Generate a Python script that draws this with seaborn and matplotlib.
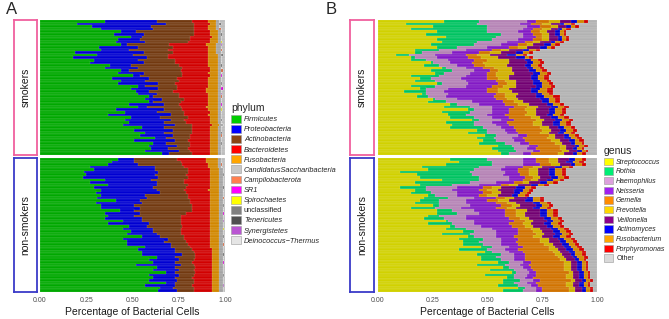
import numpy as np
import pandas as pd
import seaborn as sns
import matplotlib.pyplot as plt
from matplotlib.patches import Patch
from matplotlib.colors import to_rgb

# ---- panel A: phylum (percent per sample, top row first) ----
phyla = ["Firmicutes", "Proteobacteria", "Actinobacteria", "Bacteroidetes", "Fusobacteria",
         "CandidatusSaccharibacteria", "Campilobacterota", "SR1", "Spirochaetes", "unclassified",
         "Tenericutes", "Synergistetes", "Deinococcus\u2212Thermus"]
phylum_colors = ["#00CD00", "#0000FF", "#8B4513", "#FF0000", "#FFA500", "#C8C8C8", "#FF7F50",
                 "#FF00FF", "#FFFF00", "#808080", "#505050", "#BA55D3", "#E5E5E5"]

firm_smk = [35, 20, 28, 33, 44, 40, 49, 42, 41, 44, 32, 33, 19, 31, 18, 29, 27, 38, 35, 44, 42, 50, 39, 44, 42, 53,
            49, 52, 53, 59, 57, 59, 48, 53, 41, 46, 37, 49, 46, 48, 45, 55, 51, 57, 54, 62, 51, 61, 59, 60, 57, 66]
prot_smk = [28, 48, 32, 28, 8, 16, 6, 12, 16, 3, 21, 15, 37, 19, 40, 24, 29, 11, 18, 4, 14, 4, 20, 13, 22, 4,
            15, 7, 10, 2, 9, 2, 19, 5, 26, 17, 34, 16, 25, 19, 28, 12, 21, 10, 18, 6, 22, 7, 15, 9, 18, 4]
acti_smk = [19, 15, 23, 22, 31, 27, 26, 27, 23, 23, 19, 21, 16, 19, 11, 20, 17, 26, 24, 28, 21, 23, 15, 18, 9, 17,
            10, 13, 12, 14, 12, 15, 8, 18, 10, 15, 7, 15, 7, 12, 9, 15, 10, 15, 9, 13, 7, 13, 7, 11, 6, 12]
bact_smk = [9, 9, 8, 8, 9, 9, 12, 11, 12, 20, 19, 22, 19, 22, 22, 18, 18, 16, 15, 16, 14, 15, 17, 16, 18, 17,
            16, 18, 16, 16, 13, 15, 16, 14, 14, 14, 13, 12, 14, 13, 11, 10, 10, 10, 11, 11, 12, 11, 11, 12, 11, 10]
fuso_smk = [4, 3, 4, 4, 4, 4, 3, 4, 4, 5, 4, 4, 4, 5, 5, 5, 5, 5, 4, 4, 5, 4, 5, 5, 5, 5,
            6, 6, 5, 5, 5, 5, 5, 6, 5, 4, 5, 4, 4, 4, 4, 4, 4, 4, 4, 4, 4, 4, 4, 4, 4, 4]
cand_smk = [2, 2, 2, 2, 2, 2, 2, 2, 2, 3, 3, 3, 3, 2, 2, 2, 2, 2, 2, 2, 2, 2, 2, 2, 2, 2,
            2, 2, 2, 2, 2, 2, 2, 2, 2, 2, 2, 2, 2, 2, 2, 2, 2, 2, 2, 2, 2, 2, 2, 2, 2, 2]
campi_smk = {3: 1, 11: 0.5, 19: 1, 29: 0.5, 44: 0.5}
sr1_smk = {21: 0.5, 26: 1, 32: 0.5}
spiro_smk = {8: 0.5, 34: 0.5}
uncl_smk = {1: 1, 13: 1, 24: 0.5, 38: 0.5, 47: 0.5}
teneri_smk = {5: 0.5, 17: 0.5, 43: 0.5}
synerg_smk = {9: 0.5, 28: 0.5}

firm_non = [42, 39, 37, 27, 29, 24, 25, 23, 35, 27, 37, 29, 33, 30, 33, 31, 41, 30, 33, 33, 43, 35, 37, 35, 45, 37,
            48, 45, 49, 47, 55, 45, 47, 47, 57, 53, 55, 55, 63, 59, 61, 52, 63, 61, 68, 59, 61, 59, 68, 57, 65, 64]
prot_non = [9, 12, 16, 35, 33, 40, 37, 41, 25, 36, 26, 32, 30, 35, 24, 27, 13, 25, 18, 21, 8, 19, 14, 20, 10, 22,
            10, 16, 12, 16, 10, 24, 20, 24, 14, 20, 18, 22, 10, 16, 12, 24, 10, 14, 5, 16, 12, 15, 5, 16, 7, 10]
acti_non = [23, 25, 24, 16, 18, 16, 17, 16, 18, 15, 17, 18, 15, 14, 23, 22, 27, 26, 31, 28, 31, 25, 25, 21, 21, 17,
            19, 15, 15, 13, 13, 9, 12, 9, 10, 9, 10, 7, 11, 8, 9, 7, 11, 8, 11, 8, 9, 9, 10, 9, 11, 9]
bact_non = [16, 14, 14, 13, 12, 12, 13, 12, 14, 14, 12, 13, 13, 13, 12, 12, 11, 11, 10, 10, 10, 13, 16, 16, 16, 16,
            15, 16, 16, 16, 14, 14, 13, 12, 11, 11, 10, 9, 9, 10, 11, 10, 9, 10, 9, 10, 11, 10, 10, 11, 10, 10]
fuso_non = [6, 6, 5, 5, 5, 5, 5, 5, 5, 5, 5, 5, 6, 5, 5, 5, 5, 5, 5, 5, 5, 5, 5, 5, 5, 5,
            5, 5, 5, 5, 5, 5, 5, 5, 5, 4, 4, 4, 4, 4, 4, 4, 4, 4, 4, 4, 4, 4, 4, 4, 4, 4]
cand_non = [2, 2, 2, 2, 2, 2, 2, 2, 2, 2, 2, 2, 2, 2, 2, 2, 2, 2, 2, 2, 2, 2, 2, 2, 2, 2,
            2, 2, 2, 2, 2, 2, 2, 2, 2, 2, 2, 2, 2, 2, 2, 2, 2, 2, 2, 2, 2, 2, 2, 2, 2, 2]
campi_non = {2: 0.5, 15: 0.5, 33: 0.5}
sr1_non = {40: 0.5, 21: 0.5}
spiro_non = {27: 0.5}
uncl_non = {6: 0.5, 18: 0.5, 30: 0.5, 45: 0.5}
teneri_non = {11: 0.5, 37: 0.5}
synerg_non = {24: 0.5, 49: 0.5}

# ---- panel B: genus (percent per sample, top row first) ----
genera = ["Streptococcus", "Rothia", "Haemophilus", "Neisseria", "Gemella", "Prevotella",
          "Veillonella", "Actinomyces", "Fusobacterium", "Porphyromonas", "Other"]
genus_colors = ["#FFFF00", "#00EE76", "#DDA0DD", "#A020F0", "#FF8C00", "#FFD700",
                "#8B008B", "#0000FF", "#FFA500", "#FF0000", "#D9D9D9"]

strep_smk = [30, 13, 25, 15, 27, 22, 31, 27, 29, 24, 27, 17, 17, 8, 15, 15, 24, 21, 29, 24, 26, 15, 19, 17, 27, 15,
             19, 12, 20, 18, 25, 23, 33, 30, 41, 29, 32, 33, 43, 31, 34, 33, 45, 41, 49, 45, 48, 46, 55, 52, 55, 56]
roth_smk = [16, 32, 25, 35, 23, 34, 23, 25, 16, 20, 9, 11, 3, 6, 2, 7, 1, 7, 2, 10, 4, 13, 5, 9, 2, 11,
            3, 10, 2, 5, 1, 8, 3, 12, 3, 13, 8, 11, 3, 13, 10, 15, 5, 9, 5, 8, 6, 12, 6, 10, 8, 4]
haem_smk = [22, 20, 18, 16, 14, 10, 12, 12, 14, 12, 14, 12, 14, 12, 10, 10, 8, 8, 9, 10, 12, 12, 14, 14, 12, 14,
            10, 8, 10, 8, 10, 12, 10, 10, 8, 10, 10, 8, 10, 8, 10, 8, 8, 9, 10, 8, 8, 7, 8, 6, 8, 6]
neis_smk = [4, 5, 6, 5, 6, 5, 6, 7, 8, 8, 10, 12, 12, 14, 14, 12, 10, 8, 8, 7, 8, 10, 12, 14, 14, 12,
            18, 20, 22, 22, 18, 14, 12, 10, 8, 8, 8, 8, 6, 7, 6, 6, 5, 5, 4, 5, 5, 4, 4, 4, 3, 4]
gem_smk = [6, 5, 5, 4, 4, 4, 3, 4, 4, 4, 4, 4, 5, 5, 6, 6, 5, 5, 5, 4, 4, 4, 5, 4, 4, 5,
           5, 5, 4, 5, 5, 5, 6, 6, 7, 8, 9, 10, 10, 12, 11, 12, 12, 10, 10, 11, 12, 12, 10, 11, 10, 12]
prev_smk = [5, 4, 3, 4, 3, 3, 3, 3, 3, 3, 4, 4, 5, 6, 8, 10, 12, 10, 8, 6, 8, 6, 5, 5, 4, 6,
            5, 6, 6, 5, 5, 4, 5, 5, 5, 4, 5, 4, 4, 4, 4, 4, 4, 4, 3, 4, 4, 3, 3, 3, 3, 3]
veil_smk = [5, 4, 4, 3, 4, 3, 4, 4, 5, 5, 6, 6, 7, 8, 8, 7, 8, 8, 7, 8, 9, 10, 10, 8, 8, 9,
            10, 9, 8, 9, 10, 9, 8, 6, 6, 6, 5, 5, 5, 5, 5, 4, 4, 4, 4, 4, 4, 4, 4, 3, 4, 4]
actm_smk = [3, 2, 2, 2, 2, 2, 2, 2, 2, 3, 3, 3, 3, 4, 4, 3, 3, 3, 3, 3, 3, 3, 3, 3, 4, 3,
            4, 3, 3, 4, 4, 3, 3, 3, 3, 3, 3, 3, 3, 3, 3, 3, 3, 3, 2, 3, 3, 2, 2, 2, 2, 2]
fusb_smk = [3, 3, 2, 2, 2, 2, 2, 2, 2, 2, 2, 3, 3, 3, 2, 3, 3, 3, 3, 3, 3, 3, 3, 3, 3, 4,
            3, 4, 3, 4, 3, 3, 3, 3, 3, 3, 3, 3, 3, 3, 3, 3, 3, 3, 3, 3, 2, 3, 2, 2, 2, 2]
porp_smk = [2, 2, 2, 2, 1, 1, 1, 1, 2, 2, 2, 2, 2, 2, 2, 2, 2, 2, 2, 2, 2, 2, 2, 2, 2, 2,
            3, 3, 2, 3, 2, 2, 2, 2, 2, 2, 2, 2, 2, 2, 2, 2, 2, 2, 2, 2, 2, 1, 2, 1, 1, 2]

strep_non = [33, 37, 31, 20, 23, 10, 18, 19, 29, 17, 19, 10, 17, 15, 23, 21, 19, 17, 25, 15, 27, 27, 23, 21, 31, 23,
             33, 31, 39, 29, 41, 37, 39, 39, 47, 37, 49, 45, 47, 47, 55, 45, 57, 51, 61, 49, 59, 57, 57, 55, 64, 57]
roth_non = [17, 15, 21, 26, 21, 32, 25, 27, 17, 25, 15, 12, 5, 9, 3, 11, 9, 11, 3, 11, 7, 9, 5, 9, 1, 11,
            2, 9, 5, 13, 3, 11, 7, 9, 5, 13, 3, 11, 7, 9, 5, 13, 3, 11, 2, 13, 3, 8, 5, 9, 3, 9]
haem_non = [16, 14, 14, 12, 12, 16, 14, 14, 14, 12, 12, 14, 12, 12, 10, 12, 12, 12, 14, 12, 10, 10, 12, 10, 12, 10,
            12, 12, 10, 12, 10, 8, 10, 8, 8, 8, 8, 6, 8, 6, 6, 7, 6, 6, 6, 6, 5, 6, 6, 6, 5, 6]
neis_non = [6, 6, 8, 8, 8, 6, 8, 7, 6, 8, 10, 12, 12, 12, 10, 10, 10, 14, 14, 16, 14, 12, 18, 20, 18, 16,
            14, 12, 10, 10, 8, 8, 7, 8, 6, 6, 6, 5, 5, 5, 4, 4, 4, 3, 3, 4, 4, 3, 4, 3, 3, 3]
gem_non = [6, 6, 5, 5, 5, 5, 4, 4, 4, 4, 4, 4, 4, 4, 4, 4, 5, 5, 5, 5, 5, 5, 5, 5, 5, 6,
           6, 6, 7, 8, 9, 10, 11, 12, 12, 14, 14, 14, 15, 16, 15, 16, 15, 14, 15, 14, 15, 14, 14, 13, 12, 12]
prev_non = [4, 4, 4, 4, 4, 4, 4, 3, 3, 3, 4, 4, 5, 4, 5, 4, 5, 4, 4, 4, 5, 4, 4, 4, 4, 4,
            4, 4, 4, 4, 4, 4, 4, 4, 3, 4, 3, 3, 3, 3, 3, 3, 3, 3, 2, 3, 3, 2, 3, 3, 3, 3]
veil_non = [5, 4, 5, 6, 5, 5, 5, 5, 4, 5, 6, 7, 7, 6, 6, 6, 7, 8, 7, 8, 6, 7, 7, 7, 6, 6,
            6, 5, 5, 5, 5, 4, 5, 4, 4, 4, 4, 4, 4, 4, 3, 3, 3, 3, 3, 3, 3, 3, 3, 3, 3, 3]
actm_non = [3, 3, 2, 3, 3, 3, 3, 3, 3, 3, 3, 4, 4, 3, 3, 3, 4, 3, 3, 3, 3, 3, 3, 3, 3, 3,
            3, 3, 3, 3, 3, 3, 3, 3, 3, 3, 3, 2, 2, 2, 2, 2, 2, 2, 2, 2, 2, 2, 2, 2, 2, 2]
fusb_non = [3, 3, 3, 3, 3, 3, 3, 3, 3, 3, 3, 3, 3, 3, 3, 3, 3, 3, 3, 3, 3, 3, 3, 3, 3, 3,
            3, 3, 3, 3, 3, 3, 3, 3, 3, 3, 3, 3, 3, 2, 2, 2, 2, 2, 2, 2, 2, 2, 2, 2, 2, 2]
porp_non = [2, 2, 2, 2, 2, 2, 2, 2, 2, 2, 2, 2, 2, 2, 2, 2, 2, 2, 2, 2, 2, 2, 2, 2, 2, 2,
            2, 2, 2, 2, 2, 2, 2, 2, 2, 2, 2, 2, 2, 1, 1, 1, 1, 1, 1, 1, 1, 1, 1, 1, 1, 1]


def dense(d, n):
    return [d.get(i, 0) for i in range(n)]


def with_rest(parts):
    # last taxon takes whatever is left so every bar ends at 1.00
    arr = np.array(parts, dtype=float)
    return np.vstack([arr, 100 - arr.sum(axis=0)])


n_smk, n_non = len(firm_smk), len(firm_non)
phy_smk = with_rest([firm_smk, prot_smk, acti_smk, bact_smk, fuso_smk, cand_smk,
                     dense(campi_smk, n_smk), dense(sr1_smk, n_smk), dense(spiro_smk, n_smk),
                     dense(uncl_smk, n_smk), dense(teneri_smk, n_smk), dense(synerg_smk, n_smk)])
phy_non = with_rest([firm_non, prot_non, acti_non, bact_non, fuso_non, cand_non,
                     dense(campi_non, n_non), dense(sr1_non, n_non), dense(spiro_non, n_non),
                     dense(uncl_non, n_non), dense(teneri_non, n_non), dense(synerg_non, n_non)])
gen_smk = with_rest([strep_smk, roth_smk, haem_smk, neis_smk, gem_smk, prev_smk,
                     veil_smk, actm_smk, fusb_smk, porp_smk])
gen_non = with_rest([strep_non, roth_non, haem_non, neis_non, gem_non, prev_non,
                     veil_non, actm_non, fusb_non, porp_non])

sns.set_theme(style="white")
plt.rcParams['font.family'] = ['Liberation Sans', 'DejaVu Sans']

W, H = 669, 319
fig = plt.figure(figsize=(W / 100, H / 100), dpi=100)


def box(x0, y0, x1, y1):
    return [x0 / W, 1 - y1 / H, (x1 - x0) / W, (y1 - y0) / H]


def darker(c, f=0.82):
    return tuple(v * f for v in to_rgb(c))


def stacked(ax, parts, colors):
    cum = np.cumsum(parts, axis=0) / 100
    ids = [f"s{i:03d}" for i in range(cum.shape[1])]
    for k in range(cum.shape[0] - 1, -1, -1):
        df = pd.DataFrame({"sample": ids, "cum": cum[k]})
        sns.barplot(data=df, x="cum", y="sample", order=ids, color=darker(colors[k]),
                    saturation=1, width=1.03, errorbar=None, ax=ax,
                    edgecolor=(1, 1, 1, 0.3), linewidth=0.3)
    ax.set_facecolor("#EBEBEB")
    ax.set_xlim(0, 1)
    ax.set_ylim(len(ids) - 0.5, -0.5)
    ax.set_xticks([0, 0.25, 0.5, 0.75, 1.0])
    ax.set_xticklabels(["0.00", "0.25", "0.50", "0.75", "1.00"])
    ax.set_yticks([])
    ax.set_xlabel("")
    ax.set_ylabel("")
    for s in ax.spines.values():
        s.set_visible(False)
    ax.tick_params(axis="x", length=2, width=0.5, color="#333333", labelsize=5,
                   labelcolor="#4D4D4D", pad=1.5)


def strip(rect, text, edge):
    sa = fig.add_axes(rect)
    sa.set_facecolor("white")
    sa.set_xticks([])
    sa.set_yticks([])
    for s in sa.spines.values():
        s.set_visible(True)
        s.set_color(edge)
        s.set_linewidth(1.3)
    sa.text(0.5, 0.5, text, rotation=90, ha="center", va="center", fontsize=7.5,
            color="#1A1A1A", transform=sa.transAxes)


panels = [
    (40, 225, 14, 37, phy_smk, phy_non, phylum_colors),
    (378, 597, 350, 374, gen_smk, gen_non, genus_colors),
]
for px0, px1, sx0, sx1, top, bot, cols in panels:
    ax_t = fig.add_axes(box(px0, 20, px1, 155))
    ax_b = fig.add_axes(box(px0, 158, px1, 292))
    stacked(ax_t, top, cols)
    stacked(ax_b, bot, cols)
    ax_t.tick_params(axis="x", bottom=False, labelbottom=False)
    strip(box(sx0, 20, sx1, 155), "smokers", "#F0609E")
    strip(box(sx0, 158, sx1, 292), "non-smokers", "#3A3AC8")
    fig.text((px0 + px1) / 2 / W, 1 - 312 / H, "Percentage of Bacterial Cells",
             ha="center", va="center", fontsize=7.5, color="#1A1A1A")

fig.text(6 / W, 1 - 10 / H, "A", fontsize=12, ha="left", va="center")
fig.text(326 / W, 1 - 10 / H, "B", fontsize=12, ha="left", va="center")


def add_legend(names, colors, title, x, y, size):
    handles = [Patch(facecolor=c, edgecolor="#9A9A9A", linewidth=0.4) for c in colors]
    leg = fig.legend(handles, names, title=title, loc="upper left", bbox_to_anchor=(x / W, 1 - y / H),
                     frameon=False, fontsize=size, title_fontsize=7.5, handlelength=1.3,
                     handleheight=1.25, handletextpad=0.45, labelspacing=0.24, borderpad=0,
                     borderaxespad=0, alignment="left")
    for t in leg.get_texts():
        if t.get_text() not in ("unclassified", "Other"):
            t.set_style("italic")
    return leg


add_legend(phyla, phylum_colors, "phylum", 231, 103, 5.3)
add_legend(genera, genus_colors, "genus", 604, 146, 5.0)

fig.savefig("out.png", dpi=100)
